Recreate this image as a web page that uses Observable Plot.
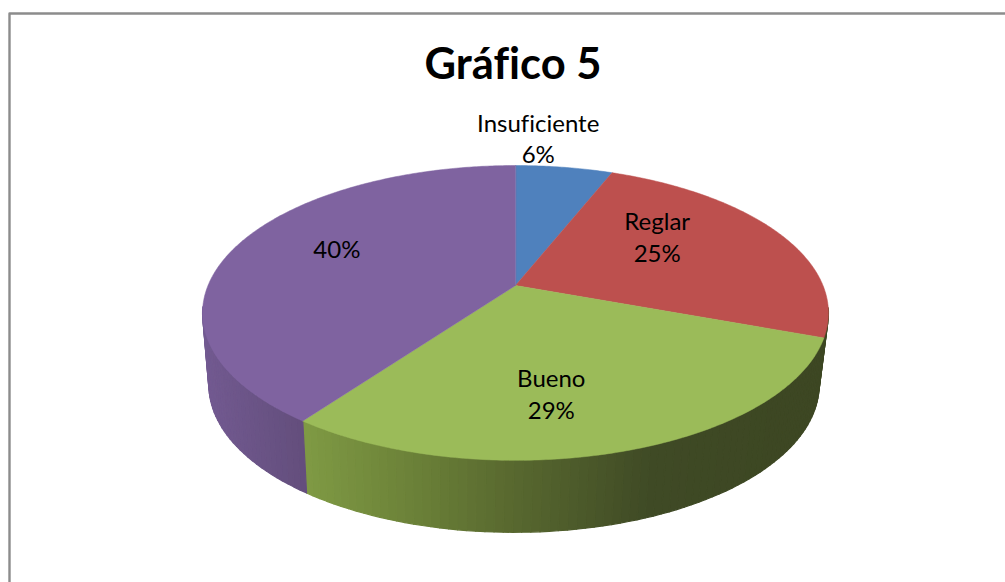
<!DOCTYPE html>
<html>
<head>
<meta charset="utf-8">
<script src="https://cdn.jsdelivr.net/npm/d3@7"></script>
<script src="https://cdn.jsdelivr.net/npm/@observablehq/plot@0.6"></script>
<style>html,body{margin:0;padding:0;background:#fff}</style>
</head>
<body>
<div id="chart"></div>
<script>
const categories = ["Insuficiente", "Reglar", "Bueno", ""];
const shares = [6, 24.6, 29.4, 40];
const title = "Gráfico 5";

const faceColors = ["#4f81bd", "#bd504e", "#9bbb59", "#7f63a0"];

// view of the tilted disc
const W = 1005, H = 582;
const cx = 515, cy = 285, A = 307.5, B = 142.3, k = 0.186, depth = 72, squeeze = 0.975, lean = -1.5;
const project = (r, t) => {
  const d = 1 + k * r * Math.cos(t);
  return [cx + A * r * Math.sin(t) / d, cy - B * r * Math.cos(t) / d];
};

const total = d3.sum(shares);
const cum = d3.cumsum(shares);
const slices = shares.map((v, i) => ({
  i, start: (cum[i] - v) / total * 2 * Math.PI, end: cum[i] / total * 2 * Math.PI
}));
const arc = (s, step) => {
  const n = Math.max(2, Math.ceil((s.end - s.start) / step));
  return d3.range(n + 1).map(j => s.start + (s.end - s.start) * j / n);
};

const wallShade = d3.scaleLinear()
  .domain([190, 303, 303.01, 413, 513, 653, 787, 830])
  .range(["#745b93", "#634e7c", "#7f9a44", "#6b8138", "#58682f", "#3f4a25", "#3d4723", "#3d4723"])
  .interpolate(d3.interpolateRgb);

const faces = slices.flatMap(s => {
  const rim = arc(s, 0.01).map(t => project(1, t));
  return [[cx, cy], ...rim].map(([x, y]) => ({x, y, id: s.i, fill: faceColors[s.i]}));
});

const low = ([x, y]) => [cx + lean + (x - cx) * squeeze, y + depth];
const walls = slices.flatMap(s => {
  const ts = arc(s, 0.025);
  return d3.pairs(ts).filter(([a, b]) => Math.cos((a + b) / 2) < -0.15).flatMap(([a, b]) => {
    const pa = project(1, a), pb = project(1, b);
    const quad = [pa, pb, low(pb), low(pa)];
    const mid = (pa[0] + pb[0]) / 2;
    const c = s.i === 3 ? wallShade(Math.min(mid, 303)) : wallShade(Math.max(mid, 303.01));
    return quad.map(([x, y]) => ({x, y, id: `${s.i}-${a}`, c}));
  });
});

const labelPlace = [
  {r: 1, dx: -26, dy: -30},
  {r: .5, dx: 6.5, dy: -22},
  {r: .65, dx: -30, dy: 7},
  {r: .6, dx: -9, dy: -12}
];
const labels = slices.map(s => {
  const [x, y] = project(labelPlace[s.i].r, (s.start + s.end) / 2);
  const pct = `${Math.round(shares[s.i] / total * 100)}%`;
  return {
    x: x + labelPlace[s.i].dx,
    y: y + labelPlace[s.i].dy,
    text: categories[s.i] ? `${categories[s.i]}\n${pct}` : pct
  };
});

const frame = [{x: 9, y: H}, {x: 9, y: 13}, {x: W, y: 13}];

const plot = Plot.plot({
  width: W, height: H,
  margin: 0,
  x: {domain: [0, W], range: [0, W], axis: null},
  y: {domain: [0, H], range: [0, H], axis: null},
  style: {background: "#fff", fontFamily: "Lato, 'Open Sans', sans-serif", fontVariantLigatures: "none"},
  marks: [
    Plot.line(frame, {x: "x", y: "y", stroke: "#8c8c8c", strokeWidth: 2.4}),
    Plot.line(walls, {x: "x", y: "y", z: "id", fill: "c", stroke: "c", strokeWidth: 1.2, curve: "linear-closed"}),
    Plot.line(faces, {x: "x", y: "y", z: "id", fill: "fill", stroke: "fill", strokeWidth: 0.5, curve: "linear-closed"}),
    Plot.text(labels, {x: "x", y: "y", text: "text", fontSize: 24, lineHeight: 1.33, fill: "#000", textAnchor: "middle"}),
    Plot.text([title], {x: [W / 2 + 10], y: [65], text: d => d, fontSize: 43.5, fontWeight: 700, fill: "#000", textAnchor: "middle"})
  ]
});
document.getElementById("chart").append(plot);
</script>
</body>
</html>
